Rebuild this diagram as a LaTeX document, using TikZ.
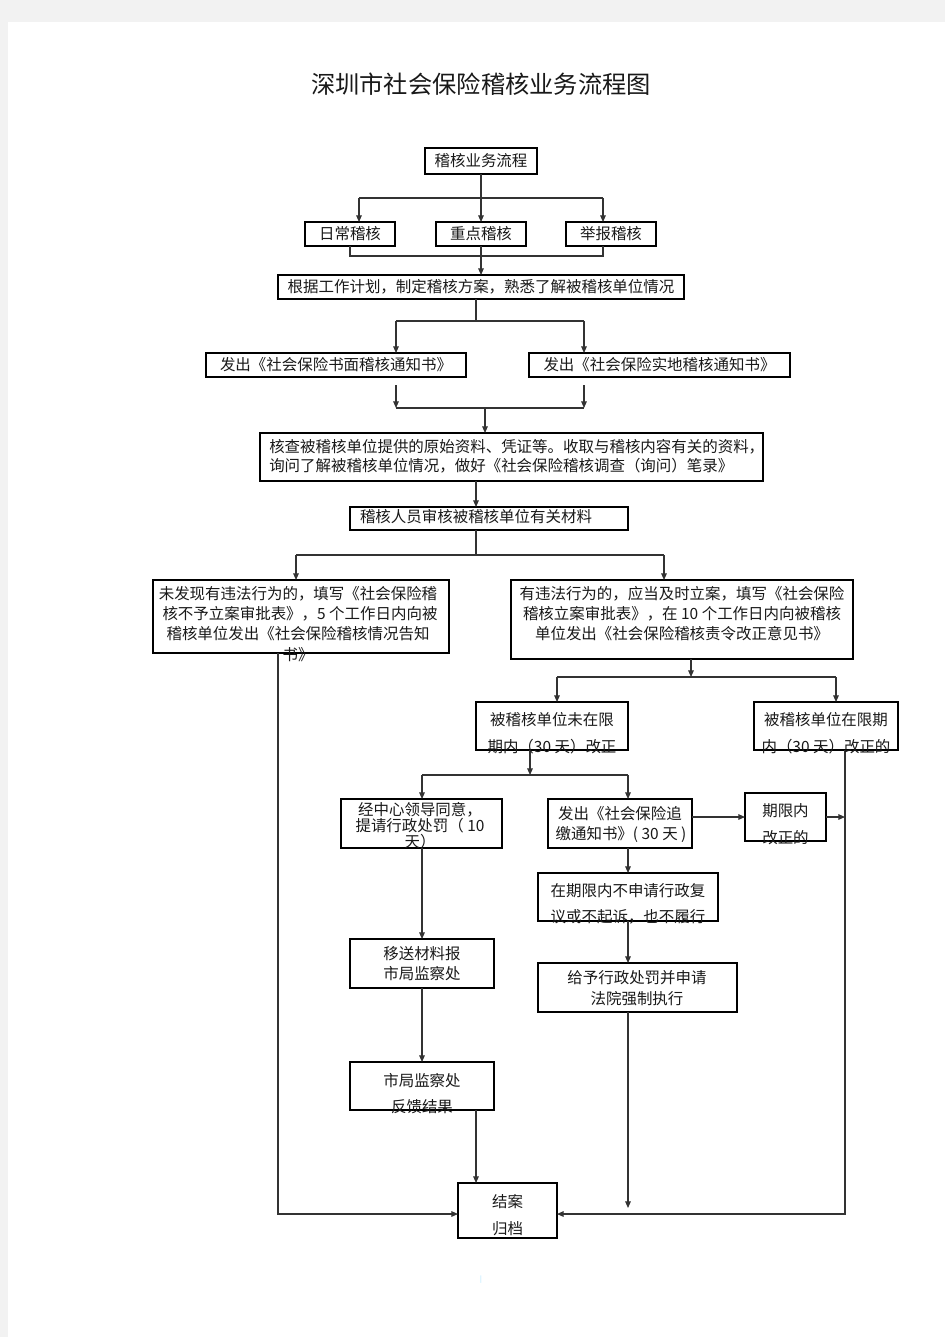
\documentclass[tikz,border=0pt]{standalone}
\usepackage{fontspec}
\setmainfont{Noto Sans CJK SC}
\usetikzlibrary{arrows.meta,calc}
\newcommand\mkbox[5]{\node[boxst,minimum width=#4*0.75pt,minimum height=#5*0.75pt] (#1) at (#2,#3) {};}
\begin{document}
\begin{tikzpicture}[x=0.75pt,y=-0.75pt,
  boxst/.style={draw=black,line width=0.85pt,inner sep=0pt,outer sep=0pt},
  cn/.style={draw=black!80,line width=0.85pt},
  ar/.style={cn,-{Triangle[length=5pt,width=4.2pt]}},
  txt/.style={inner sep=0pt,font=\fontsize{11.6pt}{14pt}\selectfont,text=black!90},
  ttl/.style={inner sep=0pt,font=\fontsize{18.2pt}{22pt}\selectfont,text=black!90}]
\useasboundingbox (0,0) rectangle (945,1337);
\fill[black!5] (0,0) rectangle (945,1337);
\fill[white] (8,22) rectangle (945,1337);
% boxes
\mkbox{b0}{481}{161}{112}{26}
\mkbox{b1}{350}{234}{90}{24}
\mkbox{b2}{481}{234}{90}{24}
\mkbox{b3}{611}{234}{90}{24}
\mkbox{plan}{481}{287}{406}{24}
\mkbox{n1}{336}{365}{260}{24}
\mkbox{n2}{659.5}{365}{261}{24}
\mkbox{chk}{511.5}{457}{503}{48}
\mkbox{rev}{489}{518.5}{278}{23}
\mkbox{L}{301}{616.5}{296}{73}
\mkbox{R}{682}{619.5}{342}{79}
\mkbox{u1}{552}{726}{152}{48}
\mkbox{u2}{826}{726}{144}{48}
\mkbox{p1}{421.5}{823.5}{161}{49}
\mkbox{p2}{620}{823.5}{144}{49}
\mkbox{p3}{785.5}{817}{81}{48}
\mkbox{m1}{422}{963.5}{144}{49}
\mkbox{q1}{628}{897}{180}{48}
\mkbox{q2}{637.5}{987.5}{199}{49}
\mkbox{m2}{422}{1086}{144}{48}
\mkbox{fin}{507.5}{1210.5}{99}{55}
% junction coordinates
\coordinate (s1l) at (359,198); \coordinate (s1r) at (603,198);
\coordinate (m1l) at (350,256); \coordinate (m1r) at (603,256);
\coordinate (s2) at (476,321); \coordinate (s2l) at (396,321); \coordinate (s2r) at (584,321);
\coordinate (d1) at (396,385); \coordinate (d2) at (584,385);
\coordinate (s3l) at (396,408); \coordinate (s3r) at (584,408); \coordinate (s3) at (485,408);
\coordinate (s4) at (476,555); \coordinate (s4l) at (296,555); \coordinate (s4r) at (664,555);
\coordinate (s5) at (691,677); \coordinate (s5l) at (557,677); \coordinate (s5r) at (836,677);
\coordinate (s6) at (530,775); \coordinate (s6l) at (422,775); \coordinate (s6r) at (628,775);
\coordinate (rv) at (845,817); \coordinate (lv) at (278,700);
\coordinate (bl) at (500,1214); \coordinate (qe) at (628,1208);
% connectors
\draw[ar] (b0.south) -- (b2.north);
\draw[cn] (s1l) -- (s1r);
\draw[ar] (s1l) -- (s1l |- b1.north);
\draw[ar] (s1r) -- (s1r |- b3.north);
\draw[cn] (b1.south) -- (m1l) -- (m1r) -- (m1r |- b3.south);
\draw[ar] (b2.south) -- (plan.north);
\draw[cn] (plan.south -| s2) -- (s2);
\draw[cn] (s2l) -- (s2r);
\draw[ar] (s2l) -- (s2l |- n1.north);
\draw[ar] (s2r) -- (s2r |- n2.north);
\draw[ar] (d1) -- (s3l);
\draw[ar] (d2) -- (s3r);
\draw[cn] (s3l) -- (s3r);
\draw[ar] (s3) -- (s3 |- chk.north);
\draw[ar] (chk.south -| s2) -- (rev.north -| s2);
\draw[cn] (rev.south -| s4) -- (s4);
\draw[cn] (s4l) -- (s4r);
\draw[ar] (s4l) -- (s4l |- L.north);
\draw[ar] (s4r) -- (s4r |- R.north);
\draw[ar] (R.south -| s5) -- (s5);
\draw[cn] (s5l) -- (s5r);
\draw[ar] (s5l) -- (s5l |- u1.north);
\draw[ar] (s5r) -- (s5r |- u2.north);
\draw[ar] (u1.south -| s6) -- (s6);
\draw[cn] (s6l) -- (s6r);
\draw[ar] (s6l) -- (s6l |- p1.north);
\draw[ar] (s6r) -- (s6r |- p2.north);
\draw[ar] (p2.east |- p3.west) -- (p3.west);
\draw[ar] (p3.east) -- (p3.east -| rv);
\draw[ar] (u2.south -| rv) -- (rv |- bl) -- (fin.east |- bl);
\draw[ar] (L.south -| lv) -- (lv |- bl) -- (fin.west |- bl);
\draw[ar] (p1.south -| s6l) -- (m1.north -| s6l);
\draw[ar] (p2.south -| s6r) -- (q1.north -| s6r);
\draw[ar] (q1.south -| s6r) -- (q2.north -| s6r);
\draw[ar] (q2.south -| qe) -- (qe);
\draw[ar] (m1.south -| s6l) -- (m2.north -| s6l);
\draw[ar] (m2.south -| s2) -- (fin.north -| s2);
% texts
\node[ttl] (title) at (481,84) {深圳市社会保险稽核业务流程图};
\node[txt] (tb0) at (481,161) {稽核业务流程};
\node[txt] (tb1) at (350,234) {日常稽核};
\node[txt] (tb2) at (481,234) {重点稽核};
\node[txt] (tb3) at (611,234) {举报稽核};
\node[txt] (tplan) at (481,287) {根据工作计划，制定稽核方案，熟悉了解被稽核单位情况};
\node[txt] (tn1) at (336,365) {发出《社会保险书面稽核通知书》};
\node[txt] (tn2) at (659.5,365) {发出《社会保险实地稽核通知书》};
\node[txt,anchor=west] (tc1) at (269,447) {核查被稽核单位提供的原始资料、凭证等。收取与稽核内容有关的资料，};
\node[txt,anchor=west] (tc2) at (269,466) {询问了解被稽核单位情况，做好《社会保险稽核调查（询问）笔录》};
\node[txt] (trev) at (476,517) {稽核人员审核被稽核单位有关材料};
\node[txt] (tl1) at (298,594) {未发现有违法行为的，填写《社会保险稽};
\node[txt] (tl2) at (300,614) {核不予立案审批表》，5 个工作日内向被};
\node[txt] (tl3) at (298,634) {稽核单位发出《社会保险稽核情况告知};
\node[txt] (tl4) at (298,655) {书》};
\node[txt] (tr1) at (682,594) {有违法行为的，应当及时立案，填写《社会保险};
\node[txt] (tr2) at (682,614) {稽核立案审批表》，在 10 个工作日内向被稽核};
\node[txt] (tr3) at (682,634) {单位发出《社会保险稽核责令改正意见书》};
\node[txt] (tu11) at (552,720) {被稽核单位未在限};
\node[txt] (tu12) at (552,747) {期内（30 天）改正};
\node[txt] (tu21) at (826,720) {被稽核单位在限期};
\node[txt] (tu22) at (826,747) {内（30 天）改正的};
\node[txt] (tp11) at (420,810) {经中心领导同意，};
\node[txt] (tp12) at (420,826) {提请行政处罚（ 10};
\node[txt] (tp13) at (420,842) {天）};
\node[txt] (tp21) at (620,814) {发出《社会保险追};
\node[txt] (tp22) at (621,834) {缴通知书》( 30 天 )};
\node[txt] (tp31) at (785.5,811) {期限内};
\node[txt] (tp32) at (785.5,838) {改正的};
\node[txt] (tq11) at (628,891) {在期限内不申请行政复};
\node[txt] (tq12) at (628,917) {议或不起诉，也不履行};
\node[txt] (tq21) at (637,978) {给予行政处罚并申请};
\node[txt] (tq22) at (637,999) {法院强制执行};
\node[txt] (tm11) at (422,954) {移送材料报};
\node[txt] (tm12) at (422,974) {市局监察处};
\node[txt] (tm21) at (422,1081) {市局监察处};
\node[txt] (tm22) at (422,1107) {反馈结果};
\node[txt] (tf1) at (507.5,1202) {结案};
\node[txt] (tf2) at (507.5,1229) {归档};
\node[inner sep=0pt,font=\fontsize{5pt}{5pt}\selectfont,text=blue!30!cyan!40] (mark) at (481,1280) {|};
\end{tikzpicture}
\end{document}
